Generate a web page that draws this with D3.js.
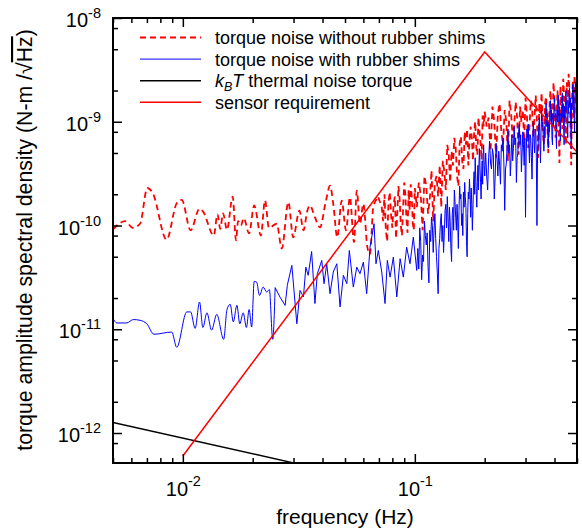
<!DOCTYPE html>
<html>
<head>
<meta charset="utf-8">
<script src="https://cdn.jsdelivr.net/npm/d3@7"></script>
<style>
  body { margin: 0; background: #fff; }
  svg { display: block; font-family: 'Liberation Sans', Arial, Helvetica, sans-serif; }
</style>
</head>
<body>
<svg id="chart" width="582" height="529"></svg>
<script>
(function (d3) {
  'use strict';

  // frequency in mHz, amplitude spectral density in units of 1e-12 N-m/rtHz
  const withoutShims = [
    [5.0, 92], [5.64, 110], [6.08, 95], [6.54, 104], [7.03, 230], [7.42, 205], [8.51, 73],
    [9.41, 164], [9.89, 177], [10.8, 90], [11.8, 145], [12.2, 137], [13.6, 80], [14.1, 128],
    [14.5, 93], [14.9, 131], [15.5, 91], [16.4, 190], [16.95, 72], [17.3, 110], [17.8, 100],
    [18.3, 118], [19.3, 84], [20.3, 156], [21.7, 80], [22.6, 174], [23.5, 95], [25.4, 104],
    [26.7, 60], [28.5, 168], [29.9, 77], [31.8, 139], [33.1, 90], [34.4, 139], [35.3, 156],
    [37.1, 120], [39.0, 96], [41.4, 174], [43.1, 242], [44.5, 162], [46.3, 77], [48.4, 174],
    [50.5, 90], [52.5, 187], [54.7, 69], [56.2, 217], [58.0, 104], [60.0, 162], [62.4, 62],
    [64.1, 53], [66.2, 150], [69.6, 187],
    [72, 150], [73, 110], [74, 200], [75, 90], [76, 70], [77, 170], [78, 210], [79, 125],
    [80, 95], [81, 160], [82, 190], [83, 75], [84, 130], [85, 240], [86, 180], [87, 100],
    [88, 80], [89, 145], [90, 260], [91, 200], [92, 115], [93, 85], [94, 220], [95, 140],
    [96, 250], [97, 190], [98, 105], [99, 90], [100, 230],
    [102, 150], [104, 260], [106, 200], [108, 90], [110, 300], [112, 240], [114, 130], [116, 180],
    [118, 340], [120, 110], [122, 260], [124, 300], [126, 190], [128, 380], [130, 150], [132, 420],
    [134, 330], [136, 220], [138, 600], [140, 480], [142, 260], [144, 520], [146, 380], [148, 700],
    [150, 560], [152, 300], [154, 240], [156, 620], [158, 720], [160, 420], [162, 350], [164, 800],
    [166, 600], [168, 850], [170, 380], [172, 650], [174, 900], [176, 700], [178, 420], [180, 760],
    [182, 1000], [184, 560], [186, 480], [188, 1100], [190, 820], [192, 620], [194, 430], [196, 1150],
    [198, 900], [200, 1250],
    [204, 900], [208, 1100], [212, 520], [216, 1400], [220, 1000], [224, 450], [228, 1200], [232, 1500],
    [236, 800], [240, 600], [244, 1300], [248, 1000], [252, 420], [256, 1600], [260, 1200], [264, 700],
    [268, 900], [272, 1550], [276, 1100], [280, 480], [284, 1400], [288, 1000], [292, 1300], [296, 650],
    [300, 1700], [304, 1200], [308, 560], [312, 900], [316, 1600], [320, 1400], [324, 700], [328, 1100],
    [332, 1800], [336, 1000], [340, 450], [344, 1500], [348, 1200], [352, 1900], [356, 800], [360, 600],
    [364, 1500], [368, 1750], [372, 1000], [376, 500], [380, 1300], [384, 2000], [388, 1400], [392, 900],
    [396, 2400], [400, 1600], [404, 700], [408, 1100], [412, 2000], [416, 1200], [420, 400], [424, 2200],
    [428, 1500], [432, 850], [436, 2600], [440, 1800], [444, 1300], [448, 600], [452, 2400], [456, 1500],
    [460, 2900], [464, 2000], [468, 1000], [472, 380], [476, 1700], [480, 2500], [484, 1100], [488, 2800],
    [492, 2200], [496, 1400], [500, 900]
  ];

  const withShims = [
    [5.0, 12.7], [5.2, 11.5], [5.73, 11.5], [6.12, 12.4], [6.54, 12.2], [6.99, 11.3], [7.51, 8.95],
    [8.96, 9.4], [9.41, 6.7], [10.4, 14.7], [10.8, 14.7], [11.3, 10.2], [11.8, 18.3], [12.2, 10.4],
    [12.7, 14.4], [13.3, 9.8], [14.0, 13.9], [15.0, 8.0], [15.5, 15.5], [16.0, 17.4], [16.5, 11.8],
    [17.1, 17.0], [17.6, 11.3], [18.2, 14.4], [18.8, 10.4], [19.3, 15.5], [19.8, 10.5], [20.3, 28.9],
    [20.8, 28.5], [21.4, 21.2], [22.2, 25.5], [23.0, 22.8], [23.6, 24.1], [24.4, 8.0], [25.0, 25.2],
    [26.2, 20.5], [27.6, 17.0], [28.2, 26.5], [29.5, 41.3], [31.0, 11.3], [32.0, 23.7], [33.1, 20.5],
    [33.9, 39.7], [34.7, 33.1], [35.9, 56.2], [37.1, 17.7], [38.0, 34.3], [39.7, 46.1], [40.6, 27.5],
    [41.7, 42.8], [43.1, 22.0], [44.5, 35.6], [46.1, 42.8], [47.6, 16.4], [49.2, 33.1], [50.9, 27.5],
    [52.2, 57.5], [54.3, 25.5], [56.2, 39.7], [58.0, 34.3], [60.0, 44.4], [62.0, 22.0], [64.1, 61.8],
    [66.7, 104], [68.0, 42.8], [69.6, 57.5], [72.0, 35.6], [74.4, 17.7], [76.1, 46.1], [78.2, 31.8],
    [80.8, 49.6], [83.6, 20.5], [86.4, 47.9], [89.2, 31.8], [92.2, 61.8], [95.3, 42.8], [98.5, 77.2],
    [101.9, 36.9],
    [103, 60], [104, 38], [105, 95], [106, 70], [107, 30], [108, 52], [109, 45], [110, 110], [111, 80], [112, 65],
    [113, 85], [114, 40], [115, 28], [116, 90], [117, 70], [118, 120], [119, 100], [120, 55], [121, 90], [122, 130],
    [123, 75], [124, 50], [125, 35], [126, 22], [127, 60], [128, 75], [129, 110], [130, 130], [131, 70], [132, 100],
    [133, 55], [134, 85], [135, 140], [136, 160], [137, 95], [138, 190], [139, 120], [140, 70], [141, 150], [142, 110],
    [143, 60], [144, 45], [145, 130], [146, 150], [147, 90], [148, 220], [149, 170], [150, 120], [151, 90], [152, 160],
    [153, 110], [154, 60], [155, 140], [156, 240], [157, 180], [158, 200], [159, 100], [160, 130], [161, 80], [162, 210],
    [163, 150], [164, 260], [165, 190], [166, 150], [167, 70], [168, 50], [169, 130], [170, 210], [171, 180], [172, 280],
    [173, 200], [174, 120], [175, 230], [176, 160], [177, 90], [178, 140], [179, 250], [180, 330], [181, 200], [182, 450],
    [183, 300], [184, 200], [185, 150], [186, 260], [187, 380], [188, 220], [189, 400], [190, 550], [191, 350], [192, 260],
    [193, 180], [194, 300], [195, 420], [196, 250], [197, 480], [198, 600], [199, 380], [200, 300],
    [202, 500], [204, 300], [206, 220], [208, 450], [210, 650], [212, 400], [214, 350], [216, 550], [218, 480], [220, 180],
    [222, 300], [224, 620], [226, 450], [228, 300], [230, 520], [232, 380], [234, 250], [236, 600], [238, 520], [240, 700],
    [242, 400], [244, 140], [246, 350], [248, 400], [250, 600], [252, 850], [254, 500], [256, 600], [258, 300], [260, 450],
    [262, 750], [264, 420], [266, 550], [268, 900], [270, 600], [272, 700], [274, 260], [276, 450], [278, 500], [280, 800],
    [282, 950], [284, 600], [286, 750], [288, 330], [290, 500], [292, 800], [294, 600], [296, 380], [298, 700], [300, 120],
    [302, 500], [304, 850], [306, 700], [308, 950], [310, 600], [312, 400], [314, 750], [316, 700], [318, 450], [320, 280],
    [322, 650], [324, 1000], [326, 700], [328, 500], [330, 850], [332, 800], [334, 450], [336, 100], [338, 500], [340, 600],
    [342, 900], [344, 1100], [346, 700], [348, 400], [350, 800], [352, 1300], [354, 900], [356, 1000], [358, 700], [360, 520],
    [362, 900], [364, 700], [366, 1200], [368, 1500], [370, 900], [372, 1200], [374, 800], [376, 560], [378, 1000], [380, 800],
    [382, 1300], [384, 1600], [386, 1000], [388, 1300], [390, 700], [392, 600], [394, 1200], [396, 900], [398, 1400], [400, 1700],
    [402, 1100], [404, 1200], [406, 800], [408, 550], [410, 1300], [412, 1000], [414, 1500], [416, 1800], [418, 1000], [420, 1400],
    [422, 900], [424, 650], [426, 1200], [428, 1000], [430, 1500], [432, 1900], [434, 1100], [436, 1500], [438, 900], [440, 600],
    [442, 1400], [444, 1100], [446, 1700], [448, 2000], [450, 1300], [452, 1600], [454, 1000], [456, 700], [458, 1500], [460, 1200],
    [462, 1800], [464, 2100], [466, 1400], [468, 1700], [470, 900], [472, 550], [474, 1500], [476, 1300], [478, 1900], [480, 2300],
    [482, 1500], [484, 1800], [486, 1100], [488, 800], [490, 1600], [492, 2400], [494, 1900], [496, 1500], [498, 1000], [500, 1200]
  ];

  const thermalNoise = [[5, 1.26], [30, 0.515]];
  const sensorRequirement = [[10, 0.6], [200, 4700], [500, 510]];

  const xMajorTicks = [0.01, 0.1];
  const yMajorTicks = [1e-12, 1e-11, 1e-10, 1e-9, 1e-8];
  const legendLabels = [
    'torque noise without rubber shims',
    'torque noise with rubber shims',
    'thermal noise torque',
    'sensor requirement'
  ];

  const FONT = "'Liberation Sans', Arial, Helvetica, sans-serif";
  const LEFT = 113, RIGHT = 577, TOP = 18, BOTTOM = 463;

  const svg = d3.select('#chart');

  const x = d3.scaleLog().domain([0.005, 0.5]).range([LEFT, RIGHT]);
  const y = d3.scaleLog().domain([5.14e-13, 1e-8]).range([BOTTOM, TOP]);

  const mantissa = (d) => Math.round(d / Math.pow(10, Math.floor(Math.log10(d) + 1e-9)));
  const xMinorTicks = x.ticks().filter((d) => mantissa(d) !== 1);
  const yMinorTicks = y.ticks().filter((d) => [2, 5, 8].includes(mantissa(d)));

  svg.append('defs').append('clipPath').attr('id', 'plotclip')
    .append('rect')
    .attr('x', LEFT).attr('y', TOP)
    .attr('width', RIGHT - LEFT).attr('height', BOTTOM - TOP);

  const smooth = d3.line()
    .x((d) => x(d[0] * 1e-3))
    .y((d) => y(d[1] * 1e-12))
    .curve(d3.curveMonotoneX);
  const straight = d3.line()
    .x((d) => x(d[0] * 1e-3))
    .y((d) => y(d[1] * 1e-12));

  const plot = svg.append('g').attr('clip-path', 'url(#plotclip)');

  // the sparse low-frequency part reads smooth, the dense part is spiky
  const drawSpectrum = (data, split, color, width, dash) => {
    plot.append('path')
      .datum(data.filter((d) => d[0] <= split))
      .attr('fill', 'none').attr('stroke', color)
      .attr('stroke-width', width).attr('stroke-dasharray', dash)
      .attr('d', smooth);
    const i = data.findIndex((d) => d[0] > split);
    plot.append('path')
      .datum(data.slice(i - 1))
      .attr('fill', 'none').attr('stroke', color)
      .attr('stroke-width', width).attr('stroke-dasharray', dash)
      .attr('d', straight);
  };

  drawSpectrum(withoutShims, 70, '#ff0000', 1.8, '6,4');
  drawSpectrum(withShims, 25, '#0000ff', 1, null);

  plot.append('path')
    .datum(thermalNoise)
    .attr('fill', 'none')
    .attr('stroke', '#000')
    .attr('stroke-width', 1.5)
    .attr('d', straight);

  plot.append('path')
    .datum(sensorRequirement)
    .attr('fill', 'none')
    .attr('stroke', '#ff0000')
    .attr('stroke-width', 1.5)
    .attr('d', straight);

  // axes: ticks point inward on all four sides
  const powerLabel = (sel, shift) => {
    sel.each(function (d) {
      const t = d3.select(this);
      t.text(null);
      t.append('tspan').text('10');
      t.append('tspan')
        .attr('dy', shift)
        .attr('font-size', 14.5)
        .text(Math.round(Math.log10(d)));
    });
  };

  const styleAxis = (g) => {
    g.select('.domain').remove();
    g.selectAll('.tick line').attr('stroke', '#000').attr('stroke-width', 1.5);
    g.attr('font-family', FONT).attr('font-size', 20);
    g.selectAll('.tick text').attr('fill', '#000');
  };

  const bottom = svg.append('g')
    .attr('transform', `translate(0,${BOTTOM})`)
    .call(d3.axisBottom(x).tickValues(xMajorTicks).tickSize(-9).tickPadding(0))
    .call(styleAxis);
  bottom.selectAll('.tick text').attr('y', 33).attr('dy', 0).call(powerLabel, -10);

  svg.append('g')
    .attr('transform', `translate(0,${BOTTOM})`)
    .call(d3.axisBottom(x).tickValues(xMinorTicks).tickSize(-5).tickFormat(''))
    .call(styleAxis);

  svg.append('g')
    .attr('transform', `translate(0,${TOP})`)
    .call(d3.axisTop(x).tickValues(xMajorTicks).tickSize(-9).tickFormat(''))
    .call(styleAxis);
  svg.append('g')
    .attr('transform', `translate(0,${TOP})`)
    .call(d3.axisTop(x).tickValues(xMinorTicks).tickSize(-5).tickFormat(''))
    .call(styleAxis);

  const left = svg.append('g')
    .attr('transform', `translate(${LEFT},0)`)
    .call(d3.axisLeft(y).tickValues(yMajorTicks).tickSize(-9).tickPadding(12))
    .call(styleAxis);
  left.selectAll('.tick text').attr('dy', 8.5).call(powerLabel, -9);

  svg.append('g')
    .attr('transform', `translate(${LEFT},0)`)
    .call(d3.axisLeft(y).tickValues(yMinorTicks).tickSize(-5).tickFormat(''))
    .call(styleAxis);

  svg.append('g')
    .attr('transform', `translate(${RIGHT},0)`)
    .call(d3.axisRight(y).tickValues(yMajorTicks).tickSize(-9).tickFormat(''))
    .call(styleAxis);
  svg.append('g')
    .attr('transform', `translate(${RIGHT},0)`)
    .call(d3.axisRight(y).tickValues(yMinorTicks).tickSize(-5).tickFormat(''))
    .call(styleAxis);

  svg.append('rect')
    .attr('x', LEFT).attr('y', TOP)
    .attr('width', RIGHT - LEFT).attr('height', BOTTOM - TOP)
    .attr('fill', 'none')
    .attr('stroke', '#000')
    .attr('stroke-width', 2);

  // axis titles
  svg.append('text')
    .attr('x', (LEFT + RIGHT) / 2)
    .attr('y', 524)
    .attr('text-anchor', 'middle')
    .attr('font-family', FONT)
    .attr('font-size', 21)
    .text('frequency (Hz)');

  const yTitle = svg.append('text')
    .attr('transform', 'translate(32,240) rotate(-90)')
    .attr('text-anchor', 'middle')
    .attr('font-family', FONT)
    .attr('font-size', 21.25);
  yTitle.append('tspan').text('torque amplitude spectral density (N-m /\u221A');
  yTitle.append('tspan').style('text-decoration', 'overline').text('Hz');
  yTitle.append('tspan').text(')');

  // legend
  const legendStyles = [
    { color: '#ff0000', width: 1.8, dash: '6,4' },
    { color: '#0000ff', width: 1, dash: null },
    { color: '#000000', width: 1.5, dash: null },
    { color: '#ff0000', width: 1.5, dash: null }
  ];
  const legend = svg.append('g').attr('font-family', FONT).attr('font-size', 18);
  legendLabels.forEach((label, i) => {
    const ly = 37.5 + i * 21.6;
    const st = legendStyles[i];
    legend.append('line')
      .attr('x1', 140).attr('x2', 201)
      .attr('y1', ly).attr('y2', ly)
      .attr('stroke', st.color)
      .attr('stroke-width', st.width)
      .attr('stroke-dasharray', st.dash);
    const t = legend.append('text').attr('x', 215).attr('y', ly + 6.5);
    if (i === 2) {
      t.append('tspan').attr('font-style', 'italic').text('k');
      t.append('tspan').attr('font-style', 'italic').attr('font-size', 12.5).attr('dy', 3.5).text('B');
      t.append('tspan').attr('font-style', 'italic').attr('dy', -3.5).text('T');
      t.append('tspan').text(' ' + label);
    } else {
      t.text(label);
    }
  });

}(d3));
</script>
</body>
</html>
